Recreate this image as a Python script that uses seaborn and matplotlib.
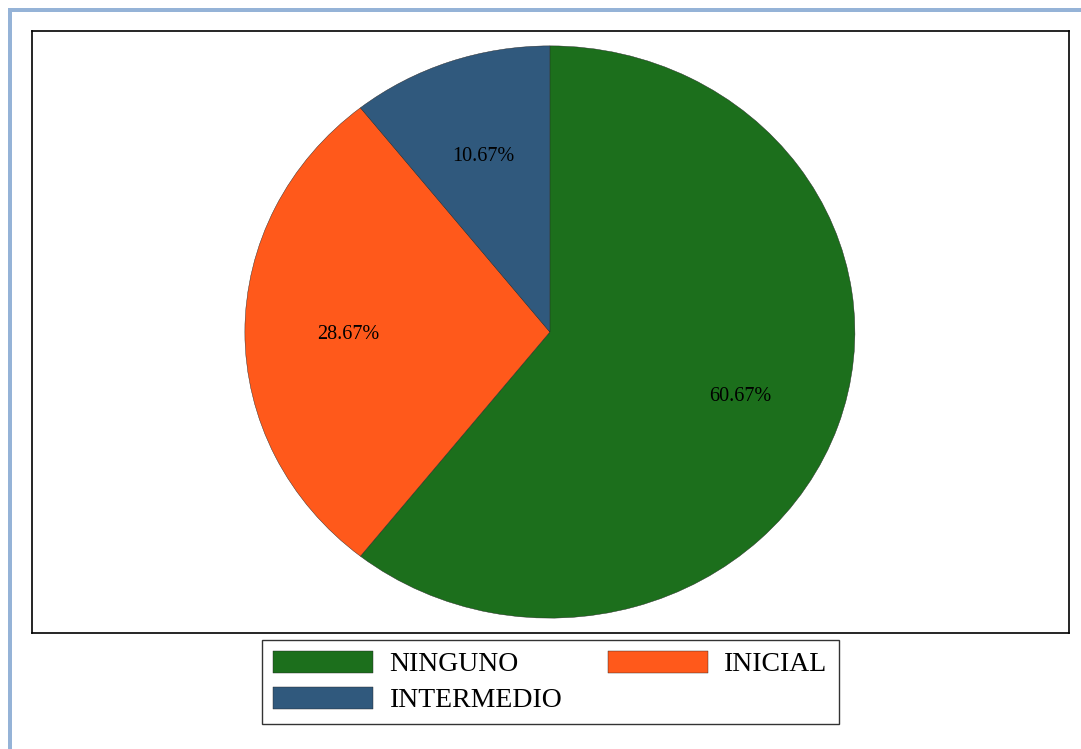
import matplotlib
matplotlib.use("Agg")
import matplotlib.pyplot as plt
from matplotlib.patches import Rectangle
import seaborn as sns

# data: counts per level (n = 150)
categories = ["NINGUNO", "INICIAL", "INTERMEDIO"]
counts = [91, 43, 16]
colors = ["#1c6f1c", "#ff591b", "#30597d"]

sns.set_style("white")
plt.rcParams["font.family"] = ["Liberation Serif", "DejaVu Serif"]

fig = plt.figure(figsize=(10.81, 7.49), dpi=100)
W, H = 1081, 749

# plot frame in pixels: x 32..1069, y 31..633
ax = fig.add_axes([32 / W, 1 - 633 / H, 1037 / W, 602 / H])

wedges, texts, autotexts = ax.pie(
    counts, colors=colors, startangle=90, counterclock=False,
    autopct="%.2f%%", pctdistance=0.66, frame=True,
    textprops={"fontsize": 14.5, "color": "black"},
    wedgeprops={"linewidth": 0.3, "edgecolor": "#222222"},
)
for t in autotexts:
    t.set_va("center_baseline")
ax.set_aspect("auto")
ax.set_xlim(-1.698, 1.702)
ax.set_ylim(-1.052, 1.052)
ax.set_xticks([])
ax.set_yticks([])
for s in ax.spines.values():
    s.set_visible(True)
    s.set_color("black")
    s.set_linewidth(1.2)

# legend is filled row by row: NINGUNO, INICIAL / INTERMEDIO
order = [0, 2, 1]
leg = fig.legend(
    [wedges[i] for i in order], [categories[i] for i in order],
    ncol=2, loc="center",
    bbox_to_anchor=(550.5 / W, 1 - 682 / H),
    fontsize=20, frameon=True, fancybox=False,
    handlelength=3.6, handleheight=0.86, handletextpad=0.58,
    columnspacing=1.65, labelspacing=0.33, borderpad=0.4,
)
leg.get_frame().set_edgecolor("black")
leg.get_frame().set_linewidth(1.0)
for t in leg.get_texts():
    t.set_color("black")

# light blue page border (top and left)
border = "#95b3d7"
fig.add_artist(Rectangle((8 / W, 1 - 12 / H), 1 - 8 / W, 4 / H,
                         transform=fig.transFigure, color=border, lw=0))
fig.add_artist(Rectangle((8 / W, 0), 4 / W, 1 - 8 / H,
                         transform=fig.transFigure, color=border, lw=0))

fig.savefig("out.png", dpi=100)
